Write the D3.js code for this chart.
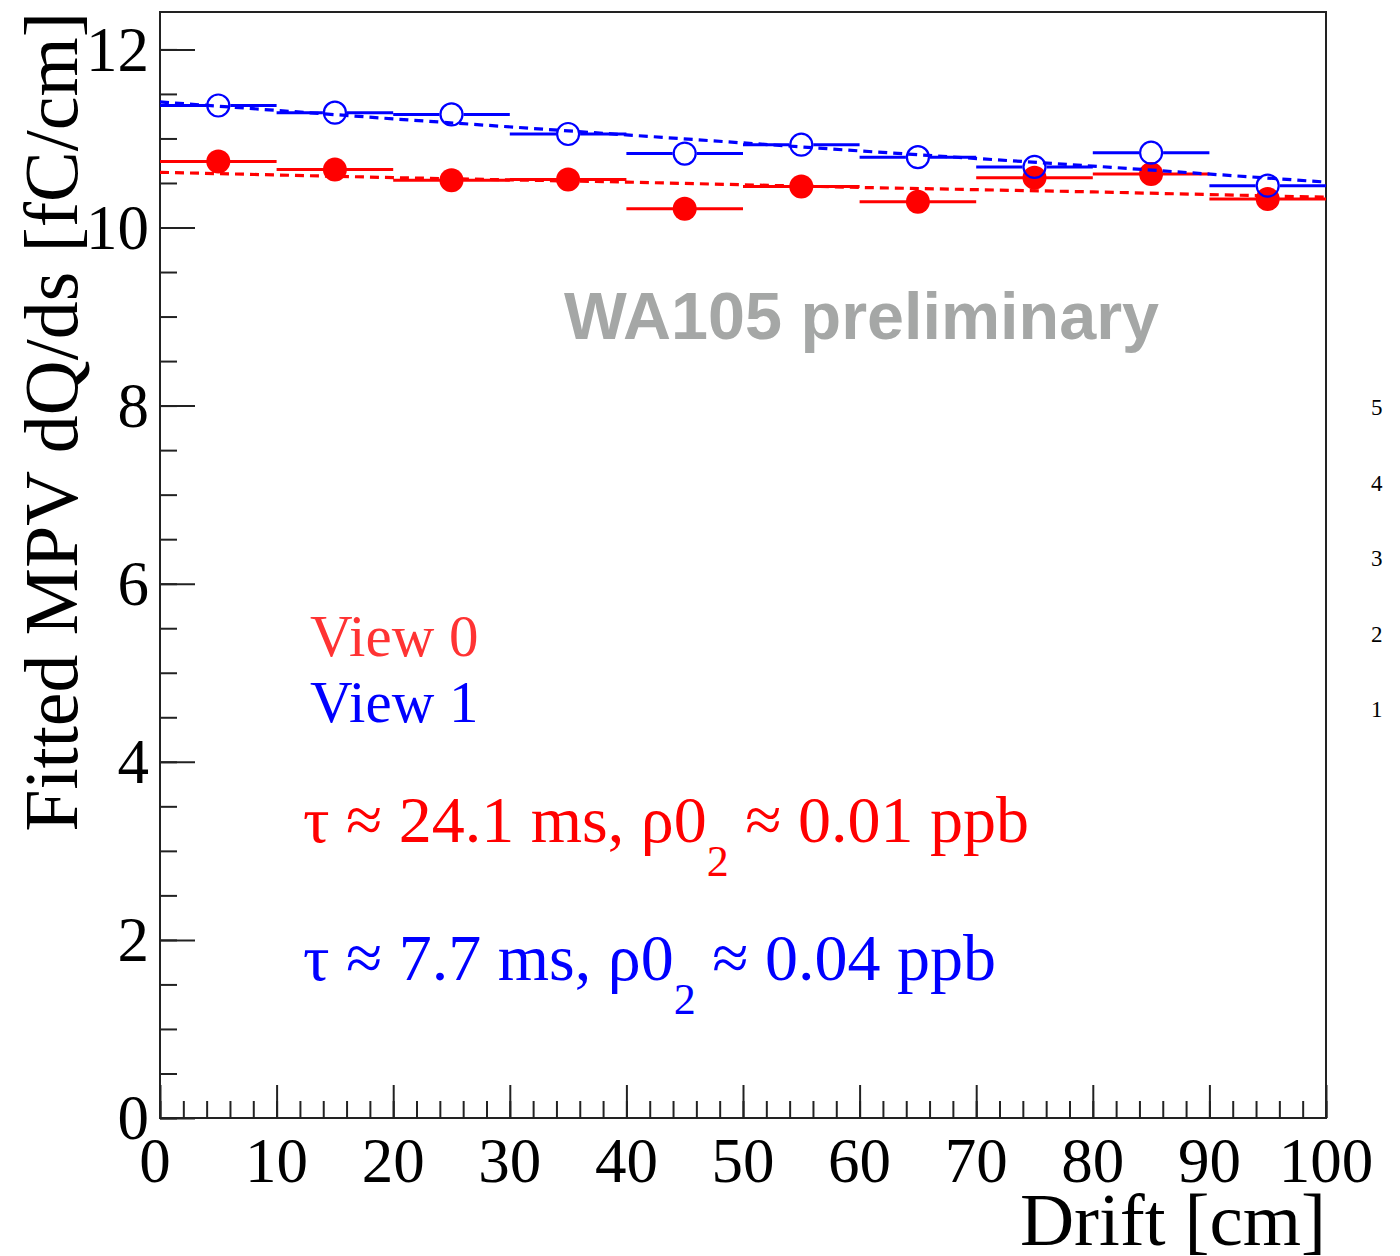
<!DOCTYPE html>
<html>
<head>
<meta charset="utf-8">
<script src="https://cdn.jsdelivr.net/npm/d3@7"></script>
<style>
  body { margin: 0; background: #fff; }
  svg { display: block; }
</style>
</head>
<body>
<div id="chart"></div>
<script>
// bins along the drift (cm)
let binLow  = [0, 10, 20, 30, 40, 50, 60, 70, 80, 90];
let binHigh = [10, 20, 30, 40, 50, 60, 70, 80, 90, 100];
// fitted MPV dQ/ds per bin [fC/cm]
let view0 = [10.74, 10.65, 10.53, 10.54, 10.21, 10.46, 10.29, 10.56, 10.60, 10.32];
let view1 = [11.37, 11.29, 11.27, 11.05, 10.83, 10.93, 10.79, 10.68, 10.84, 10.47];
// exponential fit curves
let fitX  = [0, 20, 40, 60, 80, 100];
let fit0  = [10.62, 10.56, 10.51, 10.45, 10.40, 10.34];
let fit1  = [11.41, 11.22, 11.04, 10.86, 10.69, 10.51];
let xTicks = [0, 10, 20, 30, 40, 50, 60, 70, 80, 90, 100];
let yTicks = [0, 2, 4, 6, 8, 10, 12];
let sideLabels = ["5", "4", "3", "2", "1"];

let width = 1400, height = 1256;
let margin = ({top: 12, right: 74, bottom: 138, left: 160});
let serif = "'Liberation Serif', 'Times New Roman', serif";
let red = "#ff0000", blue = "#0000ff";

let x = d3.scaleLinear()
    .domain([0, 100])
    .range([margin.left, width - margin.right]);
let y = d3.scaleLinear()
    .domain([0, 12.42])
    .range([height - margin.bottom, margin.top]);

let svg = d3.select("#chart")
    .append("svg")
    .attr("width", width)
    .attr("height", height)
    .attr("viewBox", [0, 0, width, height]);

// axes, ROOT style: ticks inside the frame
let xAxis = g => g
    .attr("transform", `translate(0,${y(0)})`)
    .call(g => g.append("g")
        .call(d3.axisTop(x).tickValues(d3.range(0, 101, 2)).tickSize(17).tickFormat(""))
        .call(g => g.select(".domain").remove()))
    .call(g => g.append("g")
        .call(d3.axisTop(x).tickValues(xTicks).tickSize(33).tickFormat(""))
        .call(g => g.select(".domain").remove()))
    .call(g => g.selectAll("line").attr("stroke", "#222").attr("stroke-width", 2))
    .call(g => g.append("g")
        .selectAll("text")
        .data(xTicks)
        .join("text")
        .attr("x", d => x(d) - (d === 0 ? 5 : 0))
        .attr("y", 64)
        .attr("text-anchor", "middle")
        .attr("font-family", serif)
        .attr("font-size", 63)
        .attr("fill", "#000")
        .text(d => d));

let yAxis = g => g
    .attr("transform", `translate(${x(0)},0)`)
    .call(g => g.append("g")
        .call(d3.axisRight(y).tickValues(d3.range(0, 12.01, 0.5)).tickSize(17).tickFormat(""))
        .call(g => g.select(".domain").remove()))
    .call(g => g.append("g")
        .call(d3.axisRight(y).tickValues(yTicks).tickSize(35).tickFormat(""))
        .call(g => g.select(".domain").remove()))
    .call(g => g.selectAll("line").attr("stroke", "#222").attr("stroke-width", 2))
    .call(g => g.append("g")
        .selectAll("text")
        .data(yTicks)
        .join("text")
        .attr("x", -11)
        .attr("y", d => y(d))
        .attr("dy", "0.34em")
        .attr("text-anchor", "end")
        .attr("font-family", serif)
        .attr("font-size", 63)
        .attr("fill", "#000")
        .text(d => d));

svg.append("g").call(xAxis);
svg.append("g").call(yAxis);

// frame
svg.append("rect")
    .attr("x", x(0))
    .attr("y", y(12.42))
    .attr("width", x(100) - x(0))
    .attr("height", y(0) - y(12.42))
    .attr("fill", "none")
    .attr("stroke", "#222")
    .attr("stroke-width", 2);

// axis titles
svg.append("text")
    .attr("x", x(100))
    .attr("y", 1245)
    .attr("text-anchor", "end")
    .attr("font-family", serif)
    .attr("font-size", 75)
    .text("Drift [cm]");

svg.append("text")
    .attr("transform", `translate(77,${margin.top}) rotate(-90)`)
    .attr("text-anchor", "end")
    .attr("font-family", serif)
    .attr("font-size", 76)
    .text("Fitted MPV dQ/ds [fC/cm]");

let r = 12;
let fitLine = d3.line().x(d => x(d[0])).y(d => y(d[1]));

function drawSeries(values, fit, color, open) {
    let rows = values.map((v, i) => ({lo: binLow[i], hi: binHigh[i], v: v, c: (binLow[i] + binHigh[i]) / 2}));
    let g = svg.append("g");
    // horizontal bin-width bars, broken around the marker
    g.selectAll(".bl")
        .data(rows)
        .join("line")
        .attr("x1", d => x(d.lo))
        .attr("x2", d => x(d.c) - (open ? r : 0))
        .attr("y1", d => y(d.v))
        .attr("y2", d => y(d.v))
        .attr("stroke", color)
        .attr("stroke-width", 3);
    g.selectAll(".br")
        .data(rows)
        .join("line")
        .attr("x1", d => x(d.c) + (open ? r : 0))
        .attr("x2", d => x(d.hi))
        .attr("y1", d => y(d.v))
        .attr("y2", d => y(d.v))
        .attr("stroke", color)
        .attr("stroke-width", 3);
    g.append("path")
        .datum(fitX.map((d, i) => [d, fit[i]]))
        .attr("d", fitLine)
        .attr("fill", "none")
        .attr("stroke", color)
        .attr("stroke-width", 3.2)
        .attr("stroke-dasharray", "9,6");
    g.selectAll("circle")
        .data(rows)
        .join("circle")
        .attr("cx", d => x(d.c))
        .attr("cy", d => y(d.v))
        .attr("r", open ? r - 1 : r)
        .attr("fill", open ? "none" : color)
        .attr("stroke", color)
        .attr("stroke-width", open ? 2.2 : 0);
}

drawSeries(view0, fit0, red, false);
drawSeries(view1, fit1, blue, true);

// labels
svg.append("text")
    .attr("x", 564)
    .attr("y", 339)
    .attr("font-family", "'Liberation Sans', Arial, sans-serif")
    .attr("font-weight", "bold")
    .attr("font-size", 66.5)
    .attr("fill", "#a5a7a6")
    .text("WA105 preliminary");

svg.append("text")
    .attr("x", 310)
    .attr("y", 656)
    .attr("font-family", serif)
    .attr("font-size", 59)
    .attr("fill", "#ff3333")
    .text("View 0");

svg.append("text")
    .attr("x", 310)
    .attr("y", 722)
    .attr("font-family", serif)
    .attr("font-size", 59)
    .attr("fill", blue)
    .text("View 1");

function fitText(yy, color, main, tail) {
    let t = svg.append("text")
        .attr("x", 303)
        .attr("y", yy)
        .attr("font-family", serif)
        .attr("font-size", 66)
        .attr("fill", color);
    t.append("tspan").text(main);
    t.append("tspan").attr("dy", 34).attr("font-size", 44).text("2");
    t.append("tspan").attr("dy", -34).text(tail);
}

fitText(842, red, "τ ≈ 24.1 ms, ρ0", " ≈ 0.01 ppb");
fitText(980, blue, "τ ≈ 7.7 ms, ρ0", " ≈ 0.04 ppb");

// stray numbers at the right edge
svg.append("g")
    .selectAll("text")
    .data(sideLabels)
    .join("text")
    .attr("x", 1371)
    .attr("y", (d, i) => 415 + i * 75.5)
    .attr("font-family", serif)
    .attr("font-size", 23)
    .attr("fill", "#000")
    .text(d => d);
</script>
</body>
</html>
